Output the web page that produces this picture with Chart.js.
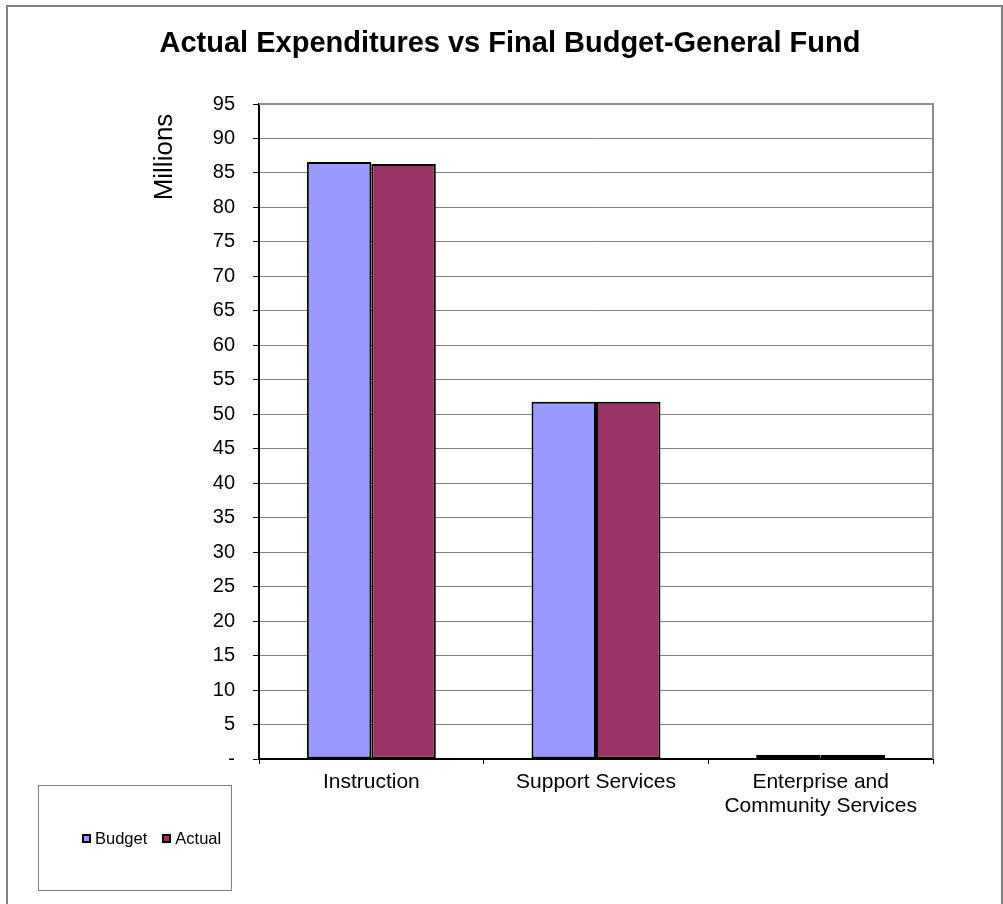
<!DOCTYPE html>
<html>
<head>
<meta charset="utf-8">
<script src="https://cdn.jsdelivr.net/npm/chart.js@4.4.1/dist/chart.umd.min.js"></script>
<style>
    body { margin: 0; background: #fff; }
    #wrap { position: relative; width: 1003px; height: 904px; }
    #legendBox {
        position: absolute; left: 38px; top: 785px; width: 194px; height: 106px;
        border: 1px solid #808080; box-sizing: border-box;
        display: flex; align-items: center; justify-content: flex-start; padding-left: 43px;
        font-family: "Liberation Sans", Arial, sans-serif; font-size: 16.5px; color: #000;
    }
    .item { display: flex; align-items: center; margin: 0 15px 0 0; }
    .swatch { width: 5px; height: 5px; border: 2px solid #000; margin-right: 4px; }
</style>
</head>
<body>
<div id="wrap">
    <canvas id="chart" width="1003" height="904"></canvas>
    <div id="legendBox"></div>
</div>
<script>
const categories = ["Instruction", "Support Services", ["Enterprise and", "Community Services"]];
const budget = [86.6, 51.8, 0.6];
const actual = [86.3, 51.8, 0.6];
const yTicks = [0, 5, 10, 15, 20, 25, 30, 35, 40, 45, 50, 55, 60, 65, 70, 75, 80, 85, 90, 95];

const FONT = "'Liberation Sans', Arial, sans-serif";

// title, axis label, frame
const decorPlugin = {
    id: "decor",
    afterDraw(chart) {
        const ctx = chart.ctx;
        const a = chart.chartArea;
        ctx.save();

        // outer frame
        ctx.strokeStyle = "#808080";
        ctx.lineWidth = 2;
        ctx.strokeRect(7, 6, 995, 910);

        // plot area top/right
        ctx.strokeStyle = "#8c8c8c";
        ctx.lineWidth = 2;
        ctx.beginPath();
        ctx.moveTo(a.left, a.top);
        ctx.lineTo(a.right, a.top);
        ctx.lineTo(a.right, a.bottom);
        ctx.stroke();

        ctx.fillStyle = "#000";
        ctx.font = "bold 29px " + FONT;
        ctx.textAlign = "center";
        ctx.textBaseline = "middle";
        ctx.fillText("Actual Expenditures vs Final Budget-General Fund", 510, 44);

        ctx.translate(165, 157);
        ctx.rotate(-Math.PI / 2);
        ctx.font = "26px " + FONT;
        ctx.fillText("Millions", 0, 0);
        ctx.restore();
    }
};

const chart = new Chart(document.getElementById("chart"), {
    type: "bar",
    data: {
        labels: categories,
        datasets: [
            { label: "Budget", data: budget, backgroundColor: "#9999FF", borderColor: "#000", borderWidth: 2, borderSkipped: false },
            { label: "Actual", data: actual, backgroundColor: "#993366", borderColor: "#000", borderWidth: 2, borderSkipped: false }
        ]
    },
    options: {
        responsive: false,
        animation: false,
        layout: { padding: { top: 104, right: 70, bottom: 0, left: 0 } },
        datasets: { bar: { categoryPercentage: 0.574, barPercentage: 1 } },
        plugins: {
            legend: { display: false },
            title: { display: false },
            tooltip: { enabled: false }
        },
        scales: {
            x: {
                afterFit(scale) { scale.height = 145; },
                grid: { drawOnChartArea: false, drawTicks: true, tickLength: 5, color: "#000", offset: true },
                border: { color: "#000", width: 2 },
                ticks: { color: "#000", font: { family: FONT, size: 21, lineHeight: 1.15 }, padding: 6, maxRotation: 0 }
            },
            y: {
                min: 0,
                max: 95,
                afterFit(scale) { scale.width = 259; },
                afterBuildTicks(scale) { scale.ticks = yTicks.map(v => ({ value: v })); },
                grid: { color: "#808080", lineWidth: 1, tickLength: 6, tickColor: "#000" },
                border: { color: "#000", width: 2 },
                ticks: {
                    color: "#000",
                    font: { family: FONT, size: 20 },
                    padding: 18,
                    callback: v => v === 0 ? "-" : v
                }
            }
        }
    },
    plugins: [decorPlugin]
});

// legend box
const legendBox = document.getElementById("legendBox");
chart.data.datasets.forEach(ds => {
    const item = document.createElement("div");
    item.className = "item";
    item.innerHTML = `<span class="swatch" style="background:${ds.backgroundColor}"></span>${ds.label}`;
    legendBox.appendChild(item);
});
</script>
</body>
</html>
